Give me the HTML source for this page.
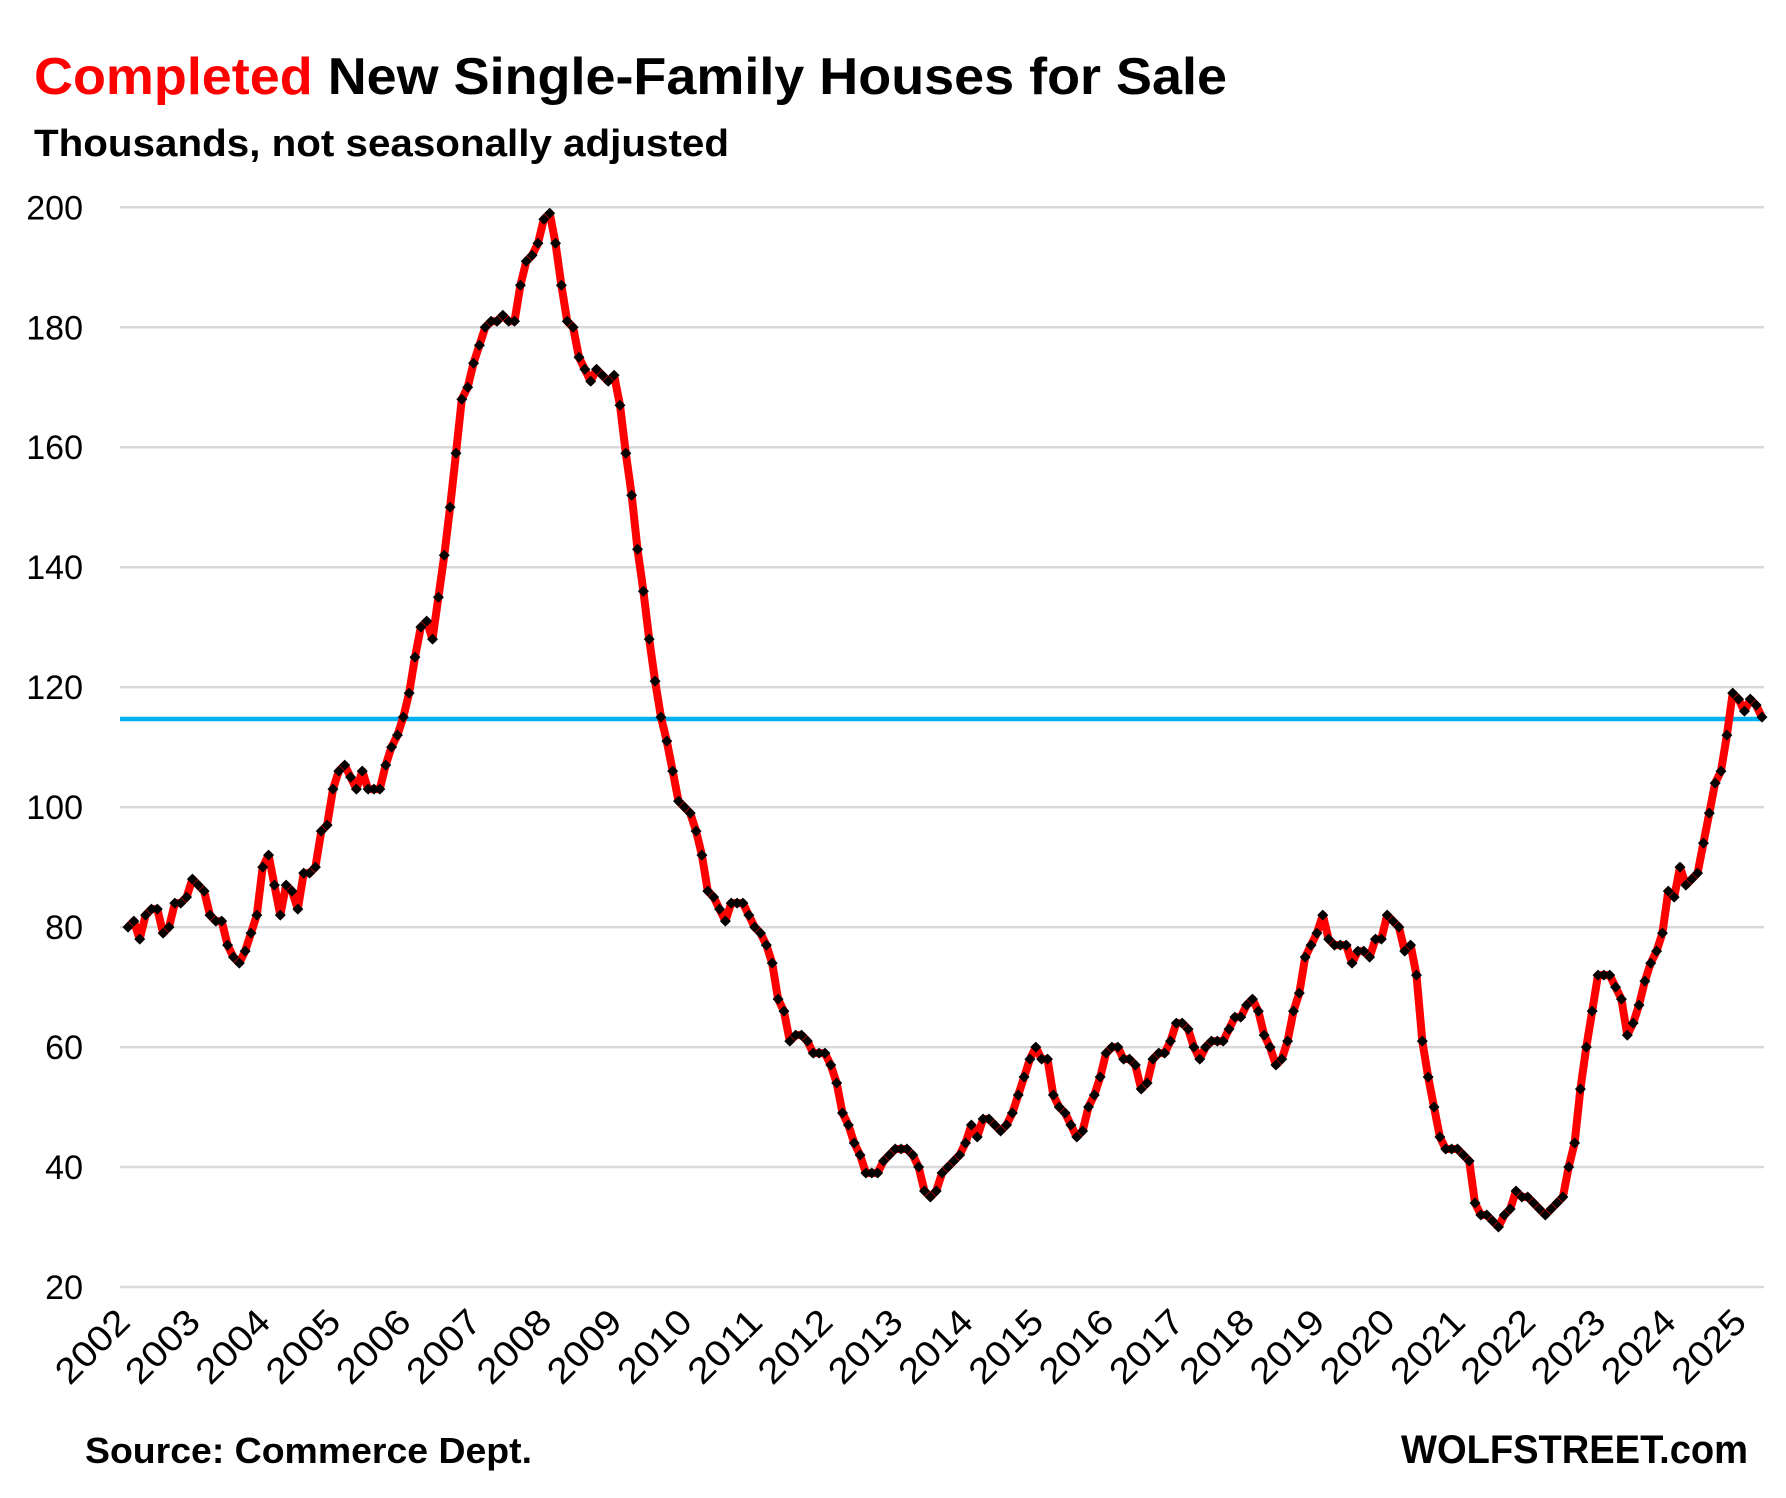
<!DOCTYPE html>
<html><head><meta charset="utf-8"><style>
html,body{margin:0;padding:0;background:#fff}
svg{display:block}
text{font-family:"Liberation Sans",sans-serif}
</style></head><body>
<svg id="c" width="1786" height="1498" xmlns="http://www.w3.org/2000/svg">
<rect width="1786" height="1498" fill="#fff"/>
<text x="34" y="94" font-size="52" font-weight="bold" textLength="1193" lengthAdjust="spacingAndGlyphs"><tspan fill="#ff0000">Completed</tspan><tspan fill="#000"> New Single-Family Houses for Sale</tspan></text>
<text x="34" y="156" font-size="38" font-weight="bold" textLength="695" lengthAdjust="spacingAndGlyphs">Thousands, not seasonally adjusted</text>
<g id="grid"></g>
<g id="ylab" font-size="34" text-anchor="end"></g>
<line x1="120" x2="1764" y1="719" y2="719" stroke="#00b0f0" stroke-width="4.5"/>
<g id="series"></g>
<g id="xlab" font-size="36"></g>
<text x="85" y="1463" font-size="36" font-weight="bold" textLength="447" lengthAdjust="spacingAndGlyphs">Source: Commerce Dept.</text>
<text x="1401" y="1463" font-size="40" font-weight="bold" textLength="347" lengthAdjust="spacingAndGlyphs">WOLFSTREET.com</text>
</svg>
<script>
var NS="http://www.w3.org/2000/svg";
function el(t,a,p,txt){var e=document.createElementNS(NS,t);for(var k in a)e.setAttribute(k,a[k]);if(txt)e.textContent=txt;document.getElementById(p).appendChild(e);return e;}
function Y(v){return 1287-(v-20)/180*1079.7;}
for(var v=20;v<=200;v+=20){var y=Y(v);el("line",{x1:120,x2:1764,y1:y,y2:y,stroke:"#d9d9d9","stroke-width":2.5},"grid");el("text",{x:83,y:y+12},"ylab",String(v));}
var d=[80,81,78,82,83,83,79,80,84,84,85,88,
87,86,82,81,81,77,75,74,76,79,82,90,
92,87,82,87,86,83,89,89,90,96,97,103,
106,107,105,103,106,103,103,103,107,110,112,115,
119,125,130,131,128,135,142,150,159,168,170,174,
177,180,181,181,182,181,181,187,191,192,194,198,
199,194,187,181,180,175,173,171,173,172,171,172,
167,159,152,143,136,128,121,115,111,106,101,100,
99,96,92,86,85,83,81,84,84,84,82,80,
79,77,74,68,66,61,62,62,61,59,59,59,
57,54,49,47,44,42,39,39,39,41,42,43,
43,43,42,40,36,35,36,39,40,41,42,44,
47,45,48,48,47,46,47,49,52,55,58,60,
58,58,52,50,49,47,45,46,50,52,55,59,
60,60,58,58,57,53,54,58,59,59,61,64,
64,63,60,58,60,61,61,61,63,65,65,67,
68,66,62,60,57,58,61,66,69,75,77,79,
82,78,77,77,77,74,76,76,75,78,78,82,
81,80,76,77,72,61,55,50,45,43,43,43,
42,41,34,32,32,31,30,32,33,36,35,35,
34,33,32,33,34,35,40,44,53,60,66,72,
72,72,70,68,62,64,67,71,74,76,79,86,
85,90,87,88,89,94,99,104,106,112,119,118,
116,118,117,115];
var N=d.length,x0=128,x1=1762,s=(x1-x0)/(N-1),pts=[];
for(var i=0;i<N;i++)pts.push((x0+i*s).toFixed(1)+","+Y(d[i]).toFixed(1));
el("polyline",{points:pts.join(" "),fill:"none",stroke:"#ff0000","stroke-width":8,"stroke-linejoin":"round"},"series");
for(var i=0;i<N;i++){var x=x0+i*s,y=Y(d[i]);el("path",{d:"M"+x+","+(y-5.5)+"l5.5,5.5l-5.5,5.5l-5.5,-5.5z",fill:"#000"},"series");}
for(var yr=0;yr<24;yr++){var x=x0+yr*12*s+4;el("text",{x:x,y:1324,"text-anchor":"end",textLength:88,lengthAdjust:"spacingAndGlyphs",transform:"rotate(-45 "+x+" 1324)"},"xlab",String(2002+yr));}
</script>
</body></html>
